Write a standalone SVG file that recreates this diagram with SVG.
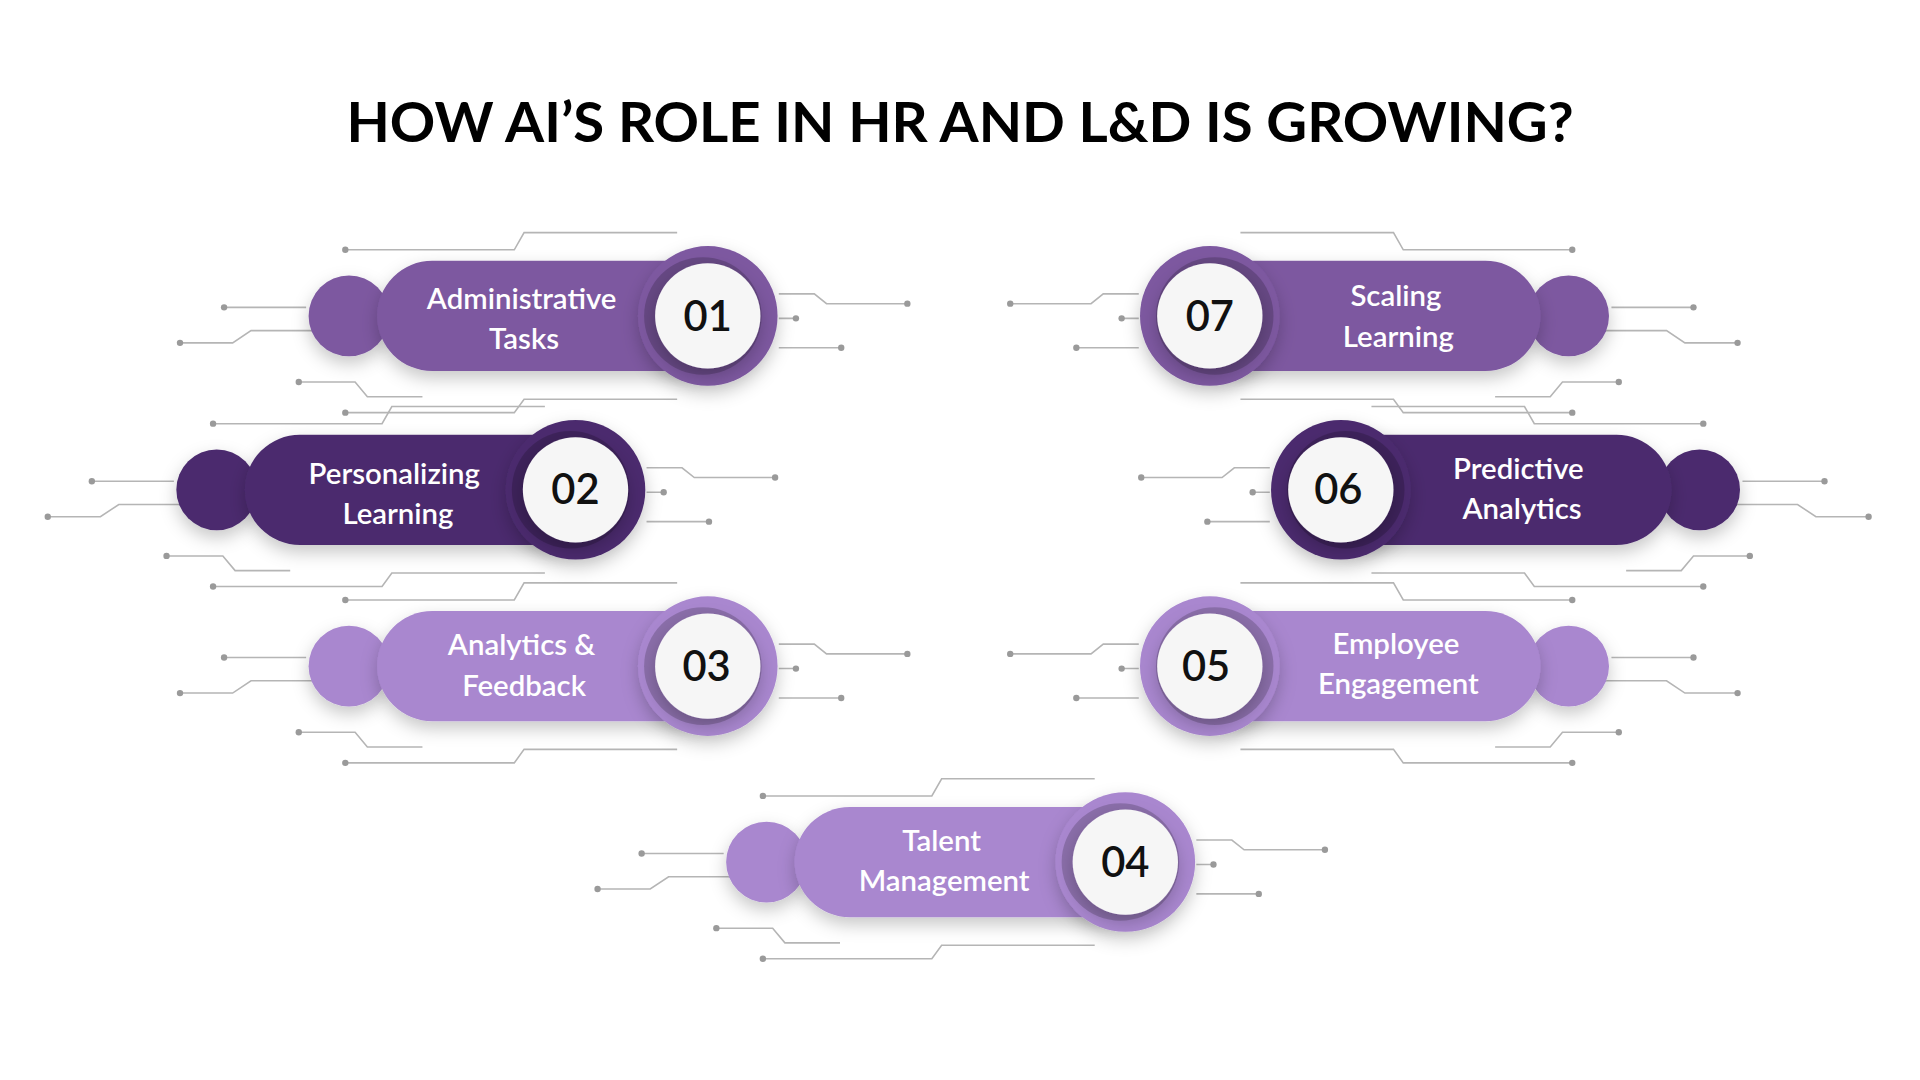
<svg xmlns="http://www.w3.org/2000/svg" xmlns:xlink="http://www.w3.org/1999/xlink" width="1920" height="1080" viewBox="0 0 1920 1080">
<defs>
<style>
.ln{fill:none;stroke:#b5b5b5;stroke-width:1.3}
.dt{fill:#9a9a9a}
.lab{font-family:Lato,"Open Sans",sans-serif;font-size:24px;font-weight:600;fill:#fff;text-anchor:middle}
.num{font-family:Lato,"Open Sans",sans-serif;font-size:34px;font-weight:600;fill:#111;text-anchor:middle}
</style>
<filter id="sh" x="-50%" y="-50%" width="200%" height="200%"><feDropShadow dx="0" dy="6" stdDeviation="7" flood-color="#000" flood-opacity="0.22"/></filter>
<g id="circ">
<path class="ln" d="M-296 -54H-158L-150 -68H-25M-395 -7H-328M-431 22H-388L-373 12H-305M-334 54H-288L-278 66H-233M-296 79H-158L-150 68H-25M58 -18H87L97 -10H163M58 2H72M58 26H109"/>
<g class="dt"><circle cx="-296" cy="-54" r="2.6"/><circle cx="-395" cy="-7" r="2.6"/><circle cx="-431" cy="22" r="2.6"/><circle cx="-334" cy="54" r="2.6"/><circle cx="-296" cy="79" r="2.6"/><circle cx="163" cy="-10" r="2.6"/><circle cx="72" cy="2" r="2.6"/><circle cx="109" cy="26" r="2.6"/></g>
</g>
<g id="shp">
<circle cx="-293" cy="0" r="33" fill="currentColor" filter="url(#sh)"/>
<rect x="-270" y="-45" width="290" height="90" rx="45" fill="currentColor" filter="url(#sh)"/>
<circle r="57" fill="currentColor" filter="url(#sh)"/>
<circle cx="-4" cy="0" r="48" fill="#000" opacity="0.18"/>
<circle r="43" fill="#f6f6f6" filter="url(#sh)"/>
</g>
</defs>
<rect width="1920" height="1080" fill="#fff"/>
<g transform="scale(1.2245)">
<text x="784" y="116" font-family="Lato,'Open Sans',sans-serif" font-size="46" font-weight="700" fill="#000" text-anchor="middle">HOW AI’S ROLE IN HR AND L&amp;D IS GROWING?</text>
<g id="connectors">
<use xlink:href="#circ" transform="translate(578 258)"/>
<use xlink:href="#circ" transform="translate(470 400)"/>
<use xlink:href="#circ" transform="translate(578 544)"/>
<use xlink:href="#circ" transform="translate(919 704)"/>
<use xlink:href="#circ" transform="translate(988 258) scale(-1 1)"/>
<use xlink:href="#circ" transform="translate(1095 400) scale(-1 1)"/>
<use xlink:href="#circ" transform="translate(988 544) scale(-1 1)"/>
</g>
<g id="n01"><use xlink:href="#shp" transform="translate(578 258)" style="color:#7d58a0"/><text class="lab" x="426" y="252">Administrative</text><text class="lab" x="428" y="285">Tasks</text><text class="num" x="578" y="270">01</text></g>
<g id="n02"><use xlink:href="#shp" transform="translate(470 400)" style="color:#4b2c6e"/><text class="lab" x="322" y="395">Personalizing</text><text class="lab" x="325" y="428">Learning</text><text class="num" x="470" y="412">02</text></g>
<g id="n03"><use xlink:href="#shp" transform="translate(578 544)" style="color:#a987cf"/><text class="lab" x="426" y="535">Analytics &amp;</text><text class="lab" x="428" y="568">Feedback</text><text class="num" x="577" y="556">03</text></g>
<g id="n04"><use xlink:href="#shp" transform="translate(919 704)" style="color:#a987cf"/><text class="lab" x="769" y="695">Talent</text><text class="lab" x="771" y="728">Management</text><text class="num" x="919" y="716">04</text></g>
<g id="n07"><use xlink:href="#shp" transform="translate(988 258) scale(-1 1)" style="color:#7d58a0"/><text class="lab" x="1140" y="250">Scaling</text><text class="lab" x="1142" y="283">Learning</text><text class="num" x="988" y="270">07</text></g>
<g id="n06"><use xlink:href="#shp" transform="translate(1095 400) scale(-1 1)" style="color:#4b2c6e"/><text class="lab" x="1240" y="391">Predictive</text><text class="lab" x="1243" y="424">Analytics</text><text class="num" x="1093" y="412">06</text></g>
<g id="n05"><use xlink:href="#shp" transform="translate(988 544) scale(-1 1)" style="color:#a987cf"/><text class="lab" x="1140" y="534">Employee</text><text class="lab" x="1142" y="567">Engagement</text><text class="num" x="985" y="556">05</text></g>
</g>
</svg>
